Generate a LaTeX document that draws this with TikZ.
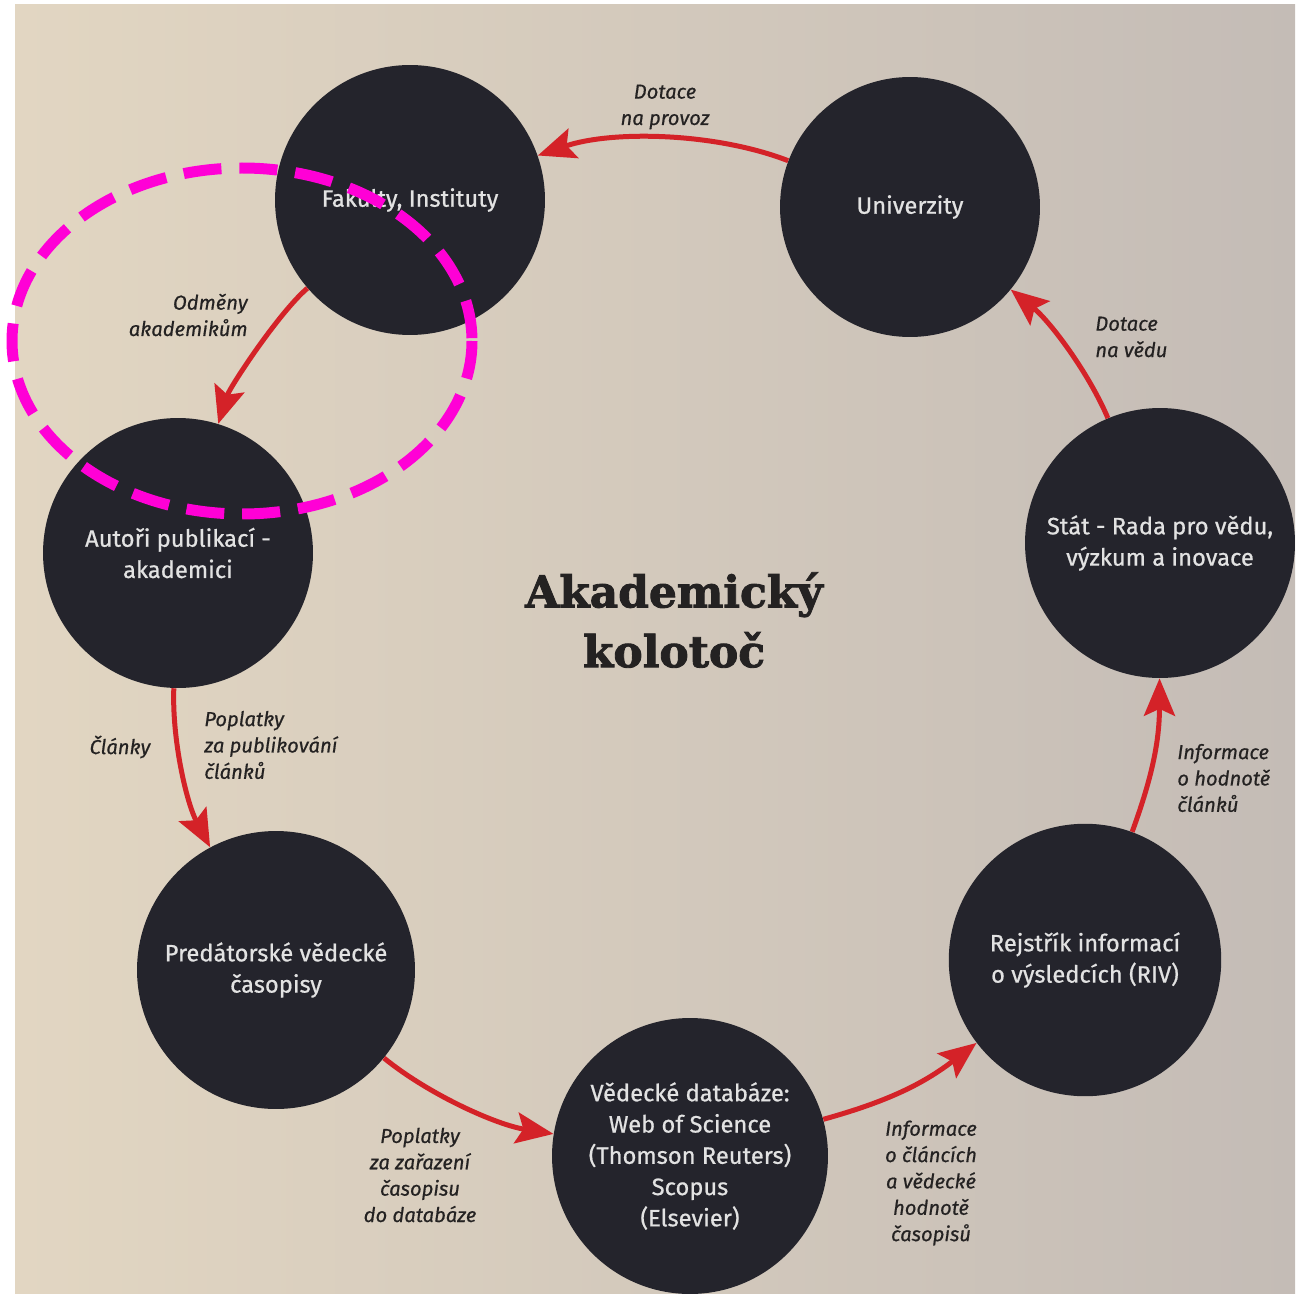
\documentclass[tikz,border=0pt]{standalone}
\usepackage{fontspec}
\setmainfont{Fira Sans}
\newfontfamily\discfont{Fira Sans}[FakeBold=0.7]
\newfontfamily\notefont{Fira Sans}[FakeBold=0.6]
\newfontfamily\titlefont{DejaVu Serif}[FakeBold=2]
\usetikzlibrary{arrows.meta}

\definecolor{pagewarm}{RGB}{226,214,194}
\definecolor{pagecool}{RGB}{196,188,182}
\definecolor{disc}{RGB}{36,36,44}
\definecolor{disctext}{RGB}{226,226,226}
\definecolor{arrowred}{RGB}{212,34,40}
\definecolor{inktext}{RGB}{36,34,34}
\definecolor{markpink}{RGB}{255,0,214}

\tikzset{
  stage/.style={circle, fill=disc, text=disctext, inner sep=0pt, minimum size=5.4cm,
    align=center, font=\fontsize{13.5}{17.8}\selectfont\discfont},
  flow/.style={draw=arrowred, line width=0.1cm,
    -{Stealth[length=0.75cm, width=0.62cm, inset=0.14cm]}},
  note/.style={text=inktext, inner sep=0pt, font=\fontsize{11.5}{15}\selectfont\notefont\itshape},
}

\begin{document}
\begin{tikzpicture}[x=0.02cm, y=-0.02cm]
% Page
\fill [white] (0,0) rectangle (1295,1297);
\shade [left color=pagewarm, right color=pagecool] (15,5) rectangle (1295,1293);
\useasboundingbox (0,0) rectangle (1295,1297);

% Stations
\node [stage] at (410,200) (fakulty) {Fakulty, Instituty};
\node [stage, minimum size=5.2cm] at (910,207) (univerzity) {Univerzity};
\node [stage] at (1160,543) (stat) {Stát - Rada pro vědu,\\výzkum a inovace};
\node [stage, minimum size=5.45cm] at (1085,960) (riv) {Rejstřík informací\\o výsledcích (RIV)};
\node [stage, minimum size=5.52cm] at (690,1156) (databaze)
  {Vědecké databáze:\\Web of Science\\(Thomson Reuters)\\Scopus\\(Elsevier)};
\node [stage, minimum size=5.56cm] at (276,970) (predatori) {Predátorské vědecké\\časopisy};
\node [stage] at (178,553) (autori) {Autoři publikací -\\akademici};

% Title
\node [text=inktext, align=center, font=\fontsize{25}{34}\selectfont\titlefont\bfseries]
  at (674,620) (title) {Akademický\\kolotoč};

% Connections
\draw [flow] (univerzity) to [bend right=20, looseness=0.8] (fakulty);
\draw [flow] (fakulty) to [bend right=16, looseness=0.6] (autori);
\draw [flow] (autori) to [bend right=15, looseness=0.8] (predatori);
\draw [flow] (predatori) to [bend right=15, looseness=0.8] (databaze);
\draw [flow] (databaze) to [bend right=11] (riv);
\draw [flow] (riv) to [bend right=10] (stat);
\draw [flow] (stat) to [bend right=14, looseness=0.8] (univerzity);

% Labels
\node [note, align=center] at (665,107) (provoz) {Dotace\\na provoz};
\node [note, align=right, anchor=east] at (248,315) (odmeny) {Odměny\\akademikům};
\node [note] at (120,747) (clanky) {Články};
\node [note, align=left, anchor=west] at (204,745) (poplatky) {Poplatky\\za publikování\\článků};
\node [note, align=center] at (420,1175) (zarazeni) {Poplatky\\za zařazení\\časopisu\\do databáze};
\node [note, align=center] at (931,1183) (infocasopis) {Informace\\o článcích\\a vědecké\\hodnotě\\časopisů};
\node [note, align=left, anchor=west] at (1177,778) (infoclanky) {Informace\\o hodnotě\\článků};
\node [note, align=left, anchor=west] at (1095,337) (veda) {Dotace\\na vědu};

% Highlight
\draw [markpink, line width=0.22cm, dash pattern=on 0.76cm off 0.36cm]
  (242,341) ellipse [x radius=230, y radius=173];
\end{tikzpicture}
\end{document}
